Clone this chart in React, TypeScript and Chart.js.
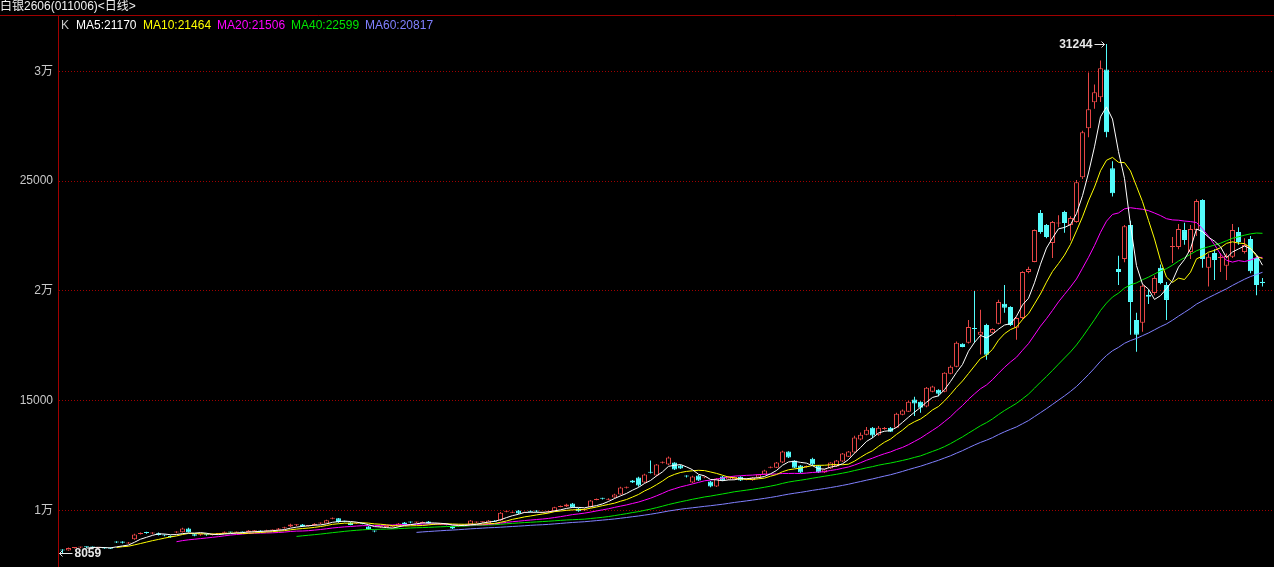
import React, { useEffect, useRef } from 'react';
import { Chart, registerables } from 'chart.js';

Chart.register(...registerables);

const title = '白银2606(011006)<日线>';

const opens = [
  8200, 8180, 8290, 8310, 8330, 8330, 8300, 8310, 8290, 8560,
  8580, 8500, 8690, 8930, 8990, 8950, 8960, 8880, 8840, 8990,
  9010, 9180, 8920, 8870, 8900, 8880, 8930, 8980, 9000, 8990,
  9010, 9000, 9050, 9080, 9050, 9090, 9120, 9190, 9270, 9320,
  9360, 9290, 9320, 9400, 9410, 9620, 9640, 9500, 9450, 9400,
  9400, 9270, 9060, 9240, 9250, 9260, 9270, 9450, 9470, 9450,
  9430, 9500, 9370, 9360, 9370, 9270, 9280, 9330, 9360, 9450,
  9460, 9410, 9530, 9540, 9940, 9900, 10000, 9900, 9960, 9970,
  9900, 9920, 9960, 10160, 10180, 10320, 10090, 10000, 10140, 10480,
  10550, 10490, 10590, 10730, 11030, 11360, 11500, 11270, 11750, 11590,
  12170, 12090, 12180, 12050, 11570, 11270, 11590, 11500, 11320, 11090,
  11550, 11410, 11420, 11540, 11400, 11370, 11500, 11640, 11940, 11950,
  12180, 12680, 12270, 12050, 11980, 12360, 12050, 11730, 11910, 12000,
  12230, 12450, 12640, 13230, 13450, 13770, 13450, 13710, 13770, 13770,
  14360, 14500, 15050, 14950, 14730, 15410, 15500, 15410, 16230, 16550,
  17590, 17640, 18300, 18000, 18450, 18090, 18500, 19410, 19270, 18320,
  18770, 20860, 21320, 23550, 23000, 22180, 23070, 23590, 23000, 23140,
  25180, 27410, 28590, 28820, 30090, 25590, 21000, 21450, 23000, 18680,
  18550, 19820, 19910, 21050, 20270, 22000, 22000, 22770, 21770, 22770,
  24140, 21050, 21730, 21500, 21140, 21550, 22680, 21770, 22360, 21500,
  20420,
];

const highs = [
  8230, 8310, 8340, 8350, 8360, 8360, 8340, 8330, 8310, 8600,
  8600, 8560, 8940, 9000, 9030, 9010, 8990, 8910, 8860, 9050,
  9210, 9210, 8940, 8930, 8930, 8950, 8970, 9040, 9030, 9040,
  9040, 9110, 9110, 9100, 9120, 9130, 9200, 9260, 9390, 9370,
  9380, 9330, 9420, 9450, 9580, 9680, 9660, 9530, 9470, 9440,
  9430, 9290, 9090, 9280, 9300, 9310, 9430, 9470, 9500, 9480,
  9500, 9520, 9390, 9400, 9390, 9290, 9350, 9350, 9560, 9500,
  9500, 9560, 9550, 9930, 9990, 9950, 10020, 9940, 10000, 10010,
  9930, 9990, 10170, 10220, 10300, 10340, 10110, 10100, 10480, 10540,
  10580, 10550, 10760, 11080, 11090, 11390, 11530, 11670, 12270, 12120,
  12230, 12460, 12200, 12070, 11600, 11580, 11610, 11540, 11340, 11480,
  11570, 11570, 11560, 11560, 11450, 11520, 11660, 11850, 12000, 12210,
  12720, 12700, 12290, 12070, 12050, 12400, 12070, 11880, 12200, 12300,
  12620, 12710, 13400, 13550, 13800, 13800, 13850, 13800, 13800, 14450,
  14600, 15000, 15180, 14970, 15620, 15680, 15520, 16300, 16600, 17700,
  17610, 18680, 20000, 19140, 18500, 18300, 19600, 20270, 19300, 18800,
  20900, 21100, 22800, 23680, 23050, 23180, 23450, 23650, 23400, 25050,
  27300, 29950, 29400, 30500, 31244, 25900, 21600, 23000, 23200, 19000,
  20300, 20050, 20700, 21200, 20400, 22450, 23050, 23100, 23000, 24180,
  24180, 21700, 21900, 21730, 21700, 23050, 22900, 22400, 22500, 21600,
  20590,
];

const lows = [
  8059, 8160, 8270, 8280, 8290, 8280, 8270, 8250, 8240, 8520,
  8500, 8480, 8670, 8900, 8940, 8920, 8860, 8830, 8760, 8960,
  8990, 8990, 8830, 8850, 8850, 8860, 8900, 8960, 8970, 8970,
  8980, 8990, 9030, 9020, 9030, 9070, 9100, 9170, 9250, 9290,
  9250, 9270, 9300, 9380, 9400, 9600, 9440, 9460, 9320, 9380,
  9370, 9120, 9010, 9200, 9230, 9240, 9250, 9340, 9420, 9430,
  9410, 9390, 9340, 9340, 9330, 9160, 9260, 9300, 9350, 9430,
  9440, 9400, 9470, 9520, 9920, 9880, 9840, 9880, 9920, 9920,
  9880, 9900, 9940, 10140, 10160, 10120, 9940, 9980, 10120, 10460,
  10500, 10470, 10570, 10710, 11000, 11250, 11080, 11250, 11680, 11560,
  12140, 12070, 11840, 11890, 11500, 11250, 11340, 11470, 11060, 11070,
  11340, 11390, 11400, 11340, 11380, 11350, 11480, 11620, 11920, 11930,
  12160, 12390, 11930, 11700, 11960, 12070, 11700, 11700, 11890, 11980,
  12210, 12430, 12620, 13200, 13430, 13300, 13400, 13680, 13570, 13750,
  14340, 14480, 14300, 14450, 14700, 15380, 15200, 15380, 16200, 16520,
  17430, 17600, 17640, 17100, 16860, 18060, 18480, 19000, 18400, 17770,
  18700, 20800, 21300, 22600, 22400, 21500, 22900, 22650, 22300, 23100,
  25100, 27000, 28300, 28600, 27000, 24300, 20270, 21300, 18000, 17230,
  18140, 19400, 19800, 20300, 18680, 21270, 21900, 22100, 21450, 22500,
  21050, 20200, 20500, 20860, 20500, 21500, 22100, 21700, 20800, 19800,
  20200,
];

const closes = [
  8170, 8290, 8310, 8330, 8320, 8310, 8320, 8270, 8260, 8540,
  8530, 8520, 8910, 8950, 8970, 8970, 8880, 8860, 8790, 9010,
  9180, 9010, 8850, 8900, 8870, 8920, 8950, 9000, 8990, 9010,
  9000, 9090, 9080, 9040, 9090, 9100, 9180, 9230, 9360, 9330,
  9270, 9300, 9390, 9420, 9550, 9640, 9460, 9490, 9340, 9410,
  9390, 9140, 9040, 9260, 9270, 9280, 9410, 9360, 9450, 9460,
  9470, 9410, 9360, 9370, 9350, 9180, 9330, 9320, 9540, 9470,
  9480, 9540, 9490, 9900, 9960, 9920, 9860, 9910, 9940, 9950,
  9910, 9960, 10140, 10180, 10270, 10140, 9960, 10050, 10450, 10500,
  10530, 10510, 10730, 11050, 11050, 11270, 11140, 11640, 11720, 12090,
  12190, 12410, 11860, 11910, 11550, 11550, 11360, 11510, 11090, 11450,
  11360, 11545, 11540, 11360, 11420, 11500, 11640, 11820, 11960, 12180,
  12680, 12410, 11950, 11730, 12000, 12090, 11730, 11860, 12180, 12270,
  12590, 12680, 13320, 13450, 13680, 13410, 13770, 13730, 13590, 14410,
  14550, 14955, 14870, 14680, 15590, 15640, 15320, 16270, 16550, 17640,
  17450, 18360, 18270, 18140, 17090, 18270, 19500, 19230, 18450, 18770,
  20860, 21000, 22770, 22680, 22450, 23140, 23090, 23090, 23320, 24950,
  27230, 28270, 29045, 30136, 27230, 24450, 20860, 22950, 19500, 18000,
  20230, 19730, 20590, 20360, 19590, 22050, 22820, 22320, 22820, 24090,
  21450, 21550, 21410, 21550, 21590, 22770, 22230, 22090, 20900, 20270,
  20360,
];

const maPeriods = [5, 10, 20, 40, 60];
const maNames = ['MA5', 'MA10', 'MA20', 'MA40', 'MA60'];
const maLegendValues = ['21170', '21464', '21506', '22599', '20817'];
const maColors = ['#ffffff', '#ffff00', '#ff00ff', '#00e600', '#8080ff'];
const legendX = [76, 143, 217, 291, 365];

const yTickValues = [10000, 15000, 20000, 25000, 30000];
const yTickLabels = ['1万', '15000', '2万', '25000', '3万'];

const UP_COLOR = '#e64646';
const DOWN_COLOR = '#54fcfc';
const GRID_COLOR = '#a00000';
const FONT = '"Liberation Sans", Arial, "Noto Sans CJK SC", sans-serif';

function movingAverage(period: number) {
  const out: { x: number; y: number }[] = [];
  for (let i = period - 1; i < closes.length; i++) {
    let s = 0;
    for (let k = i - period + 1; k <= i; k++) s += closes[k];
    out.push({ x: i, y: s / period });
  }
  return out;
}

const framePlugin = {
  id: 'frame',
  beforeDraw(chart: any) {
    const { ctx, width, height } = chart;
    ctx.save();
    ctx.fillStyle = '#000000';
    ctx.fillRect(0, 0, width, height);
    ctx.restore();
  },
  afterDraw(chart: any) {
    const { ctx, width, chartArea } = chart;
    ctx.save();
    ctx.strokeStyle = GRID_COLOR;
    ctx.lineWidth = 1;
    ctx.beginPath();
    ctx.moveTo(0, Math.round(chartArea.top) + 0.5);
    ctx.lineTo(width, Math.round(chartArea.top) + 0.5);
    ctx.stroke();
    ctx.restore();
  },
};

const extremaPlugin = {
  id: 'extrema',
  afterDatasetsDraw(chart: any) {
    const { ctx } = chart;
    const xs = chart.scales.x;
    const ys = chart.scales.y;
    let hi = 0;
    let lo = 0;
    highs.forEach((h, i) => { if (h > highs[hi]) hi = i; });
    lows.forEach((l, i) => { if (l < lows[lo]) lo = i; });
    ctx.save();
    ctx.fillStyle = '#e8e8e8';
    ctx.strokeStyle = '#e8e8e8';
    ctx.lineWidth = 1;
    ctx.font = 'bold 12px ' + FONT;
    ctx.textBaseline = 'middle';

    // highest point
    const hx = xs.getPixelForValue(hi);
    const hy = Math.round(ys.getPixelForValue(highs[hi])) + 0.5;
    const aEnd = hx - 2;
    const aStart = hx - 12;
    ctx.beginPath();
    ctx.moveTo(aStart, hy);
    ctx.lineTo(aEnd, hy);
    ctx.moveTo(aEnd - 3, hy - 3);
    ctx.lineTo(aEnd, hy);
    ctx.lineTo(aEnd - 3, hy + 3);
    ctx.stroke();
    ctx.textAlign = 'right';
    ctx.fillText(String(highs[hi]), aStart - 2, hy);

    // lowest point
    const lx = xs.getPixelForValue(lo);
    const ly = Math.round(ys.getPixelForValue(lows[lo])) + 0.5;
    const bEnd = lx - 3;
    const bStart = lx + 10;
    ctx.beginPath();
    ctx.moveTo(bStart, ly);
    ctx.lineTo(bEnd, ly);
    ctx.moveTo(bEnd + 3, ly - 3);
    ctx.lineTo(bEnd, ly);
    ctx.lineTo(bEnd + 3, ly + 3);
    ctx.stroke();
    ctx.textAlign = 'left';
    ctx.fillText(String(lows[lo]), bStart + 2, ly);
    ctx.restore();
  },
};

export default function App() {
  const canvasRef = useRef<HTMLCanvasElement | null>(null);

  useEffect(() => {
    document.body.style.margin = '0';
    document.body.style.background = '#000';
    const canvas = canvasRef.current;
    if (!canvas) return;

    const idx = closes.map((_, i) => i);
    const isUp = idx.map((i) => closes[i] >= opens[i]);

    const wickData = idx.map((i) => ({ x: i, y: [lows[i], highs[i]] }));
    const bodyData = idx.map((i) => ({ x: i, y: [opens[i], closes[i]] }));

    const datasets: any[] = [
      {
        type: 'bar',
        label: 'wick',
        data: wickData,
        backgroundColor: idx.map((i) => (isUp[i] ? UP_COLOR : DOWN_COLOR)),
        borderWidth: 0,
        barThickness: 1,
        grouped: false,
        inflateAmount: 0,
        order: 20,
      },
      {
        type: 'bar',
        label: 'K',
        data: bodyData,
        backgroundColor: idx.map((i) => (isUp[i] ? '#000000' : DOWN_COLOR)),
        borderColor: idx.map((i) => (isUp[i] ? UP_COLOR : DOWN_COLOR)),
        borderWidth: 1,
        borderSkipped: false,
        barThickness: 5,
        minBarLength: 1,
        grouped: false,
        inflateAmount: 0,
        order: 10,
      },
    ];

    maPeriods.forEach((p, k) => {
      datasets.push({
        type: 'line',
        label: maNames[k],
        data: movingAverage(p),
        borderColor: maColors[k],
        borderWidth: 1,
        pointRadius: 0,
        tension: 0,
        fill: false,
        order: 1 + k,
      });
    });

    const chart = new Chart(canvas, {
      type: 'bar',
      data: { datasets },
      options: {
        animation: false,
        responsive: false,
        devicePixelRatio: 1,
        events: [],
        layout: { padding: { top: 15, left: 0, right: 0, bottom: 0 } },
        plugins: {
          legend: { display: false },
          tooltip: { enabled: false },
          title: { display: false },
        },
        scales: {
          x: {
            type: 'linear',
            min: -0.75,
            max: 201.9167,
            display: false,
            offset: false,
            grid: { display: false },
          },
          y: {
            type: 'linear',
            position: 'left',
            min: 7424,
            max: 32567,
            afterFit: (s: any) => {
              s.width = 58;
              s.paddingTop = 0;
              s.paddingBottom = 0;
            },
            afterBuildTicks: (s: any) => {
              s.ticks = yTickValues.map((v) => ({ value: v }));
            },
            ticks: {
              color: '#c8c8c8',
              font: { family: FONT, size: 12 },
              padding: 5,
              callback: (v: any) => {
                const k = yTickValues.indexOf(Number(v));
                return k >= 0 ? yTickLabels[k] : '';
              },
            },
            grid: { color: GRID_COLOR, drawTicks: false, lineWidth: 1 },
            border: { display: true, color: GRID_COLOR, width: 1, dash: [1, 2] },
          },
        },
      } as any,
      plugins: [framePlugin, extremaPlugin],
    });

    return () => chart.destroy();
  }, []);

  return (
    <div
      style={{
        position: 'absolute',
        left: 0,
        top: 0,
        width: 1274,
        height: 567,
        background: '#000',
        overflow: 'hidden',
      }}
    >
      <canvas ref={canvasRef} width={1274} height={567} style={{ display: 'block' }} />
      <div
        style={{
          position: 'absolute',
          left: 0,
          top: 0,
          font: '12px ' + FONT,
          lineHeight: '13px',
          color: '#f0f0f0',
          whiteSpace: 'nowrap',
        }}
      >
        {title}
      </div>
      <div
        style={{
          position: 'absolute',
          left: 61,
          top: 18,
          font: '12px ' + FONT,
          lineHeight: '14px',
          color: '#c8c8c8',
          whiteSpace: 'nowrap',
        }}
      >
        K
      </div>
      {maNames.map((n, k) => (
        <div
          key={n}
          style={{
            position: 'absolute',
            left: legendX[k],
            top: 18,
            font: '12px ' + FONT,
            lineHeight: '14px',
            color: maColors[k],
            whiteSpace: 'nowrap',
          }}
        >
          {n + ':' + maLegendValues[k]}
        </div>
      ))}
    </div>
  );
}
